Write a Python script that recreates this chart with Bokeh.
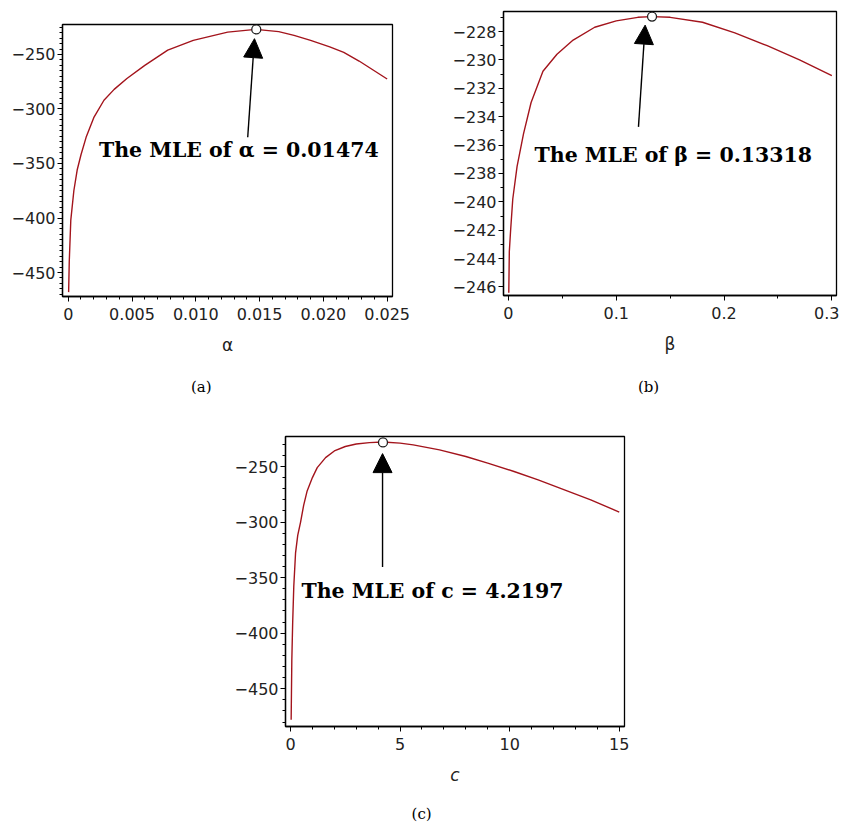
import numpy as np
from bokeh.plotting import figure
from bokeh.layouts import column, row
from bokeh.models import FixedTicker, Arrow, NormalHead, Label, Spacer, Range1d, LinearAxis
from bokeh.embed import file_html
from bokeh.resources import INLINE

# ---------------- data ----------------
alpha_x = [0.00003, 0.00008, 0.0002, 0.00044, 0.0007, 0.001, 0.0014, 0.002, 0.0028,
           0.0036, 0.0046, 0.006, 0.0078, 0.0098, 0.0125, 0.0147, 0.0165, 0.0177,
           0.019, 0.0205, 0.0216, 0.0228, 0.025]
alpha_ll = [-468, -440, -402, -375, -356, -342, -326, -308, -292,
            -282, -272, -260, -246, -237, -229.5, -227, -229, -232.5,
            -237, -243, -248, -256, -272.5]

beta_x = [0.0003, 0.0008, 0.002, 0.004, 0.008, 0.014, 0.021, 0.032, 0.045, 0.06,
          0.08, 0.1, 0.12, 0.133, 0.15, 0.18, 0.21, 0.24, 0.27, 0.3]
beta_ll = [-246.4, -243.5, -242.0, -239.8, -237.5, -235.2, -233.0, -230.8, -229.6, -228.6,
           -227.7, -227.25, -227.0, -226.95, -227.0, -227.35, -228.1, -229.0, -230.0, -231.1]

c_x = [0.03, 0.06, 0.1, 0.15, 0.23, 0.33, 0.46, 0.6, 0.76, 1.0, 1.22, 1.6, 2.0, 2.5,
       3.0, 3.6, 4.22, 5.0, 5.6, 6.8, 8.0, 9.0, 10.2, 11.3, 12.5, 13.7, 15.0]
c_ll = [-478, -425, -390, -358, -328, -312, -300, -285, -272, -260, -251, -242, -236, -232,
        -229.8, -228.5, -228, -229, -230.5, -235, -241, -247, -254.5, -262, -271, -280, -291]

mle_alpha, mle_alpha_ll = 0.01474, -227.0
mle_beta, mle_beta_ll = 0.13318, -226.95
mle_c, mle_c_ll = 4.2197, -228.3

a_xticks = [0, 0.005, 0.010, 0.015, 0.020, 0.025]
a_xlabels = ["0", "0.005", "0.010", "0.015", "0.020", "0.025"]
a_yticks = [-450, -400, -350, -300, -250]
a_ylabels = ["\u2212450", "\u2212400", "\u2212350", "\u2212300", "\u2212250"]

b_xticks = [0, 0.1, 0.2, 0.3]
b_xlabels = ["0", "0.1", "0.2", "0.3"]
b_yticks = [-246, -244, -242, -240, -238, -236, -234, -232, -230, -228]
b_ylabels = ["\u2212246", "\u2212244", "\u2212242", "\u2212240", "\u2212238",
             "\u2212236", "\u2212234", "\u2212232", "\u2212230", "\u2212228"]

c_xticks = [0, 5, 10, 15]
c_xlabels = ["0", "5", "10", "15"]
c_yticks = [-450, -400, -350, -300, -250]
c_ylabels = ["\u2212450", "\u2212400", "\u2212350", "\u2212300", "\u2212250"]

CURVE = "#a3141c"
NBSP = "\u00a0"


def panel(x, y, xr, yr, fw, fh, borders, xt, xl, xminor, yt, yl, yminor,
          xlabel, xlabel_style, caption, cap_shift, cap_standoff, mle, text, text_pos, arrow):
    left, right, top, bottom = borders
    p = figure(title=None, frame_width=fw, frame_height=fh,
               x_range=Range1d(*xr), y_range=Range1d(*yr),
               output_backend="svg", toolbar_location=None,
               min_border_left=left, min_border_right=right,
               min_border_top=top, min_border_bottom=bottom)
    p.xgrid.visible = False
    p.ygrid.visible = False
    p.outline_line_color = "black"
    p.outline_line_width = 1.3
    p.background_fill_color = "white"
    p.border_fill_color = "white"

    p.xaxis.ticker = FixedTicker(ticks=xt, minor_ticks=xminor)
    p.xaxis.major_label_overrides = {t: s for t, s in zip(xt, xl)}
    p.yaxis.ticker = FixedTicker(ticks=yt, minor_ticks=yminor)
    p.yaxis.major_label_overrides = {t: s for t, s in zip(yt, yl)}
    for ax in (p.xaxis[0], p.yaxis[0]):
        ax.axis_line_color = "black"
        ax.axis_line_width = 1.3
        ax.major_tick_in = 0
        ax.major_tick_out = 5
        ax.minor_tick_in = 0
        ax.minor_tick_out = 3
        ax.major_tick_line_color = "black"
        ax.minor_tick_line_color = "black"
        ax.major_label_text_font = "DejaVu Sans"
        ax.major_label_text_font_size = "16px"
        ax.major_label_text_color = "#222222"
        ax.major_label_standoff = 2
    p.xaxis.major_label_standoff = 6
    p.xaxis.axis_label = xlabel
    p.xaxis.axis_label_text_font = "DejaVu Sans"
    p.xaxis.axis_label_text_font_size = "17px"
    p.xaxis.axis_label_text_font_style = xlabel_style
    p.xaxis.axis_label_text_color = "#222222"
    p.xaxis.axis_label_standoff = 12

    # caption "(a)" etc. as the label of a bare second axis under the first one
    cap = LinearAxis(ticker=FixedTicker(ticks=[]), axis_line_color=None,
                     major_tick_out=0, major_tick_in=0, minor_tick_out=0, minor_tick_in=0,
                     major_label_standoff=0, axis_label=caption + NBSP * cap_shift,
                     axis_label_standoff=cap_standoff, axis_label_text_font="DejaVu Serif",
                     axis_label_text_font_size="15px", axis_label_text_font_style="normal",
                     axis_label_text_color="black")
    p.add_layout(cap, "below")

    p.line(x, y, line_color=CURVE, line_width=1.4)

    ax0, ay0, ax1, ay1 = arrow
    p.add_layout(Arrow(x_start=ax0, y_start=ay0, x_end=ax1, y_end=ay1,
                       line_color="black", line_width=1.4,
                       end=NormalHead(size=19, fill_color="black", line_color="black")))
    p.scatter([mle[0]], [mle[1]], marker="circle", size=9, fill_color="white",
              line_color="#222222", line_width=1.3)
    p.add_layout(Label(x=text_pos[0], y=text_pos[1], text=text, text_font="DejaVu Serif",
                       text_font_style="bold", text_font_size="20.5px", text_color="black",
                       text_align="center", text_baseline="middle"))
    return p


pa = panel(alpha_x, alpha_ll, (-0.00045, 0.02542), (-472, -222.5), 330, 272, (62, 46, 24, 102),
           a_xticks, a_xlabels, list(np.arange(0, 0.0251, 0.001)),
           a_yticks, a_ylabels, list(np.arange(-470, -220, 5)),
           "\u03b1", "normal", "(a)", 11, 20, (mle_alpha, mle_alpha_ll),
           "The MLE of \u03b1 = 0.01474", (0.01337, -337.2),
           (0.01407, -325.9, 0.0146, -235.5))

pb = panel(beta_x, beta_ll, (-0.0046, 0.3043), (-246.6, -226.59), 333, 284, (65, 3, 11, 103),
           b_xticks, b_xlabels, [0.05, 0.15, 0.25],
           b_yticks, b_ylabels, list(np.arange(-246, -226, 1)),
           "\u03b2", "normal", "(b)", 9, 21, (mle_beta, mle_beta_ll),
           "The MLE of \u03b2 = 0.13318", (0.1529, -236.72),
           (0.1206, -234.72, 0.1268, -227.55))

pc = panel(c_x, c_ll, (-0.228, 15.24), (-484, -223), 339, 290, (77, 10, 38, 95),
           c_xticks, c_xlabels, list(np.arange(0, 16, 1)),
           c_yticks, c_ylabels, list(np.arange(-480, -220, 10)),
           "c", "italic", "(c)", 14, 17, (mle_c, mle_c_ll),
           "The MLE of c = 4.2197", (6.48, -361.7),
           (4.2, -340.5, 4.2, -238.4))

layout = column(row(column(pa), column(pb)), row(Spacer(width=208, height=10), pc))

open("out.html", "w").write(file_html(layout, INLINE))
